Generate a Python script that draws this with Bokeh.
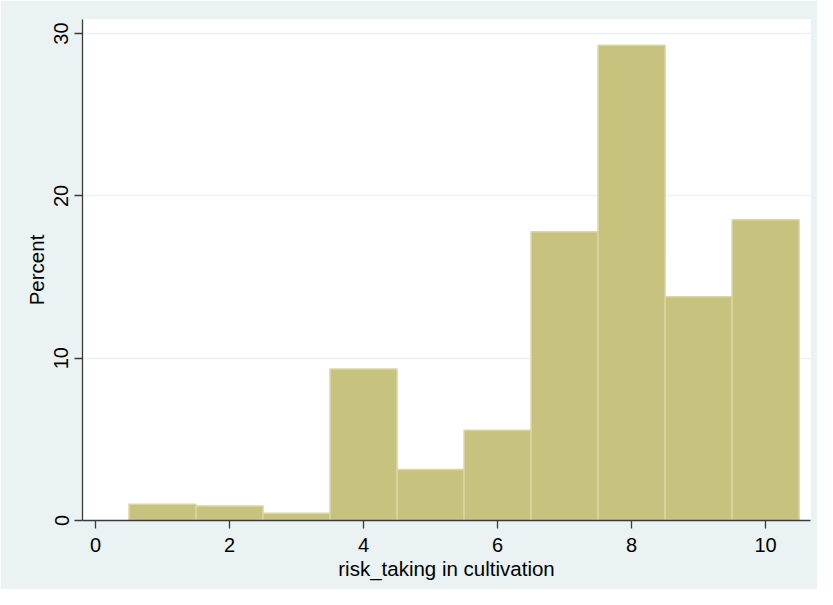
from bokeh.plotting import figure
from bokeh.models import Range1d, FixedTicker
from bokeh.embed import file_html
from bokeh.resources import INLINE

# Data: histogram of risk_taking in cultivation (percent per bin)
bin_centers = [1, 2, 3, 4, 5, 6, 7, 8, 9, 10]
percent = [1.0, 0.9, 0.45, 9.34, 3.15, 5.56, 17.79, 29.28, 13.78, 18.53]
x_ticks = [0, 2, 4, 6, 8, 10]
y_ticks = [0, 10, 20, 30]
x_title = "risk_taking in cultivation"
y_title = "Percent"

BG = "#eaf2f3"
FONT = "Liberation Sans"

W, H = 817, 589
p = figure(width=W, height=H, output_backend="svg", toolbar_location=None,
           x_range=Range1d(-0.194, 10.67), y_range=Range1d(0, 30.87),
           min_border_left=82, min_border_right=W - 810,
           min_border_top=19, min_border_bottom=H - 520)

p.border_fill_color = BG
p.background_fill_color = "white"
p.outline_line_color = None

left = [c - 0.5 for c in bin_centers]
right = [c + 0.5 for c in bin_centers]
p.quad(left=left, right=right, bottom=0, top=percent,
       fill_color="#c8c27f", line_color="#dad6a3", line_width=1.5)

p.xgrid.visible = False
p.ygrid.ticker = FixedTicker(ticks=y_ticks)
p.ygrid.grid_line_color = BG
p.ygrid.grid_line_width = 1.5

for ax in (p.xaxis[0], p.yaxis[0]):
    ax.axis_line_color = "#3a3a3a"
    ax.axis_line_width = 1.3
    ax.major_tick_line_color = "#3a3a3a"
    ax.major_tick_line_width = 1.3
    ax.major_tick_out = 8
    ax.major_tick_in = 0
    ax.minor_tick_line_color = None
    ax.major_label_text_font = FONT
    ax.major_label_text_font_size = "20px"
    ax.major_label_text_color = "black"
    ax.axis_label_text_font = FONT
    ax.axis_label_text_font_size = "20.5px"
    ax.axis_label_text_font_style = "normal"
    ax.axis_label_text_color = "black"

p.xaxis[0].ticker = FixedTicker(ticks=x_ticks)
p.yaxis[0].ticker = FixedTicker(ticks=y_ticks)
p.xaxis[0].axis_label = x_title
p.yaxis[0].axis_label = y_title
p.yaxis[0].major_label_orientation = "parallel"
p.xaxis[0].major_label_standoff = 9
p.xaxis[0].axis_label_standoff = 2
p.yaxis[0].major_label_standoff = 6
p.yaxis[0].axis_label_standoff = 4

open("out.html", "w").write(file_html(p, INLINE))
